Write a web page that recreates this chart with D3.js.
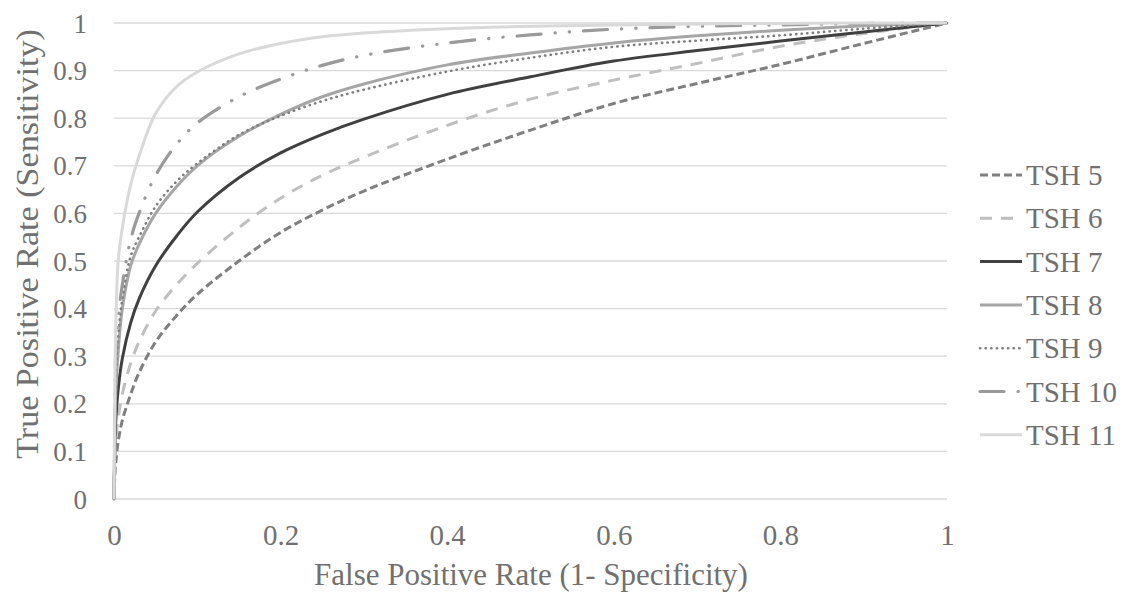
<!DOCTYPE html>
<html><head><meta charset="utf-8">
<script src="https://cdn.jsdelivr.net/npm/d3@7/dist/d3.min.js"></script>
<style>body{margin:0;background:#fff}svg{display:block}</style>
</head><body>
<svg id="chart" width="1128" height="593"></svg>
<script>
const fpr   = [0, 0.001, 0.002, 0.005, 0.01, 0.02, 0.03, 0.05, 0.075, 0.1, 0.15, 0.2, 0.25, 0.3, 0.4, 0.5, 0.6, 0.7, 0.8, 0.9, 1];
const tsh5  = [0, 0.05, 0.075, 0.12, 0.165, 0.22, 0.265, 0.33, 0.385, 0.43, 0.50, 0.56, 0.607, 0.647, 0.714, 0.775, 0.831, 0.873, 0.913, 0.957, 1];
const tsh6  = [0, 0.08, 0.12, 0.17, 0.22, 0.285, 0.33, 0.395, 0.45, 0.495, 0.57, 0.632, 0.68, 0.718, 0.785, 0.84, 0.88, 0.915, 0.951, 0.978, 1];
const tsh7  = [0, 0.11, 0.16, 0.23, 0.295, 0.37, 0.42, 0.49, 0.552, 0.603, 0.675, 0.727, 0.766, 0.798, 0.85, 0.887, 0.92, 0.942, 0.962, 0.981, 1];
const tsh8  = [0, 0.15, 0.22, 0.31, 0.40, 0.49, 0.535, 0.60, 0.656, 0.70, 0.762, 0.808, 0.845, 0.872, 0.912, 0.937, 0.958, 0.973, 0.985, 0.994, 1];
const tsh9  = [0, 0.17, 0.25, 0.34, 0.42, 0.51, 0.55, 0.615, 0.667, 0.705, 0.765, 0.805, 0.836, 0.86, 0.898, 0.927, 0.95, 0.963, 0.974, 0.988, 1];
const tsh10 = [0, 0.20, 0.30, 0.38, 0.45, 0.545, 0.60, 0.68, 0.745, 0.79, 0.845, 0.882, 0.911, 0.932, 0.958, 0.975, 0.987, 0.993, 0.996, 0.999, 1];
const tsh11 = [0, 0.22, 0.35, 0.50, 0.57, 0.66, 0.72, 0.81, 0.866, 0.897, 0.935, 0.957, 0.971, 0.979, 0.988, 0.993, 0.996, 0.998, 0.999, 1, 1];
const seriesNames = ["TSH 5", "TSH 6", "TSH 7", "TSH 8", "TSH 9", "TSH 10", "TSH 11"];
const seriesValues = [tsh5, tsh6, tsh7, tsh8, tsh9, tsh10, tsh11];
const xTicks = [0, 0.2, 0.4, 0.6, 0.8, 1];
const yTicks = [0, 0.1, 0.2, 0.3, 0.4, 0.5, 0.6, 0.7, 0.8, 0.9, 1];
const xTitle = "False Positive Rate (1- Specificity)";
const yTitle = "True Positive Rate (Sensitivity)";

const styles = [
  {color:"#7f7f7f", width:3, dash:"8,4", cap:"butt"},
  {color:"#bfbfbf", width:3, dash:"12,9", cap:"butt"},
  {color:"#404040", width:3, dash:null, cap:"butt"},
  {color:"#a6a6a6", width:3, dash:null, cap:"butt"},
  {color:"#7f7f7f", width:2.6, dash:"0.3,5.3", cap:"round"},
  {color:"#9a9a9a", width:3.2, dash:"24,14,0.3,14,0.3,14", cap:"round"},
  {color:"#d9d9d9", width:3, dash:null, cap:"butt"}
];

const FONT = "Liberation Serif";
const svg = d3.select("#chart");
const textColor = "#707070";
const x = d3.scaleLinear().domain([0,1]).range([114, 947]);
const y = d3.scaleLinear().domain([0,1]).range([499, 23]);

svg.append("g").selectAll("line").data(yTicks).join("line")
  .attr("x1", x(0)).attr("x2", x(1))
  .attr("y1", d => y(d)).attr("y2", d => y(d))
  .attr("stroke", "#d9d9d9").attr("stroke-width", 1.3);

const yAxis = d3.axisLeft(y).tickValues(yTicks).tickSize(0).tickPadding(0).tickFormat(d3.format(""));
const gy = svg.append("g").attr("transform", "translate(87,0)").call(yAxis);
gy.select(".domain").remove();
gy.attr("font-family", FONT).attr("font-size", 27);
gy.selectAll("text").attr("font-family", FONT).attr("font-size", 27).attr("fill", textColor).attr("dy", "0.34em");

const xAxis = d3.axisBottom(x).tickValues(xTicks).tickSize(0).tickPadding(0).tickFormat(d3.format(""));
const gx = svg.append("g").attr("transform", "translate(0,545)").call(xAxis);
gx.select(".domain").remove();
gx.attr("font-family", FONT).attr("font-size", 29);
gx.selectAll("text").attr("font-family", FONT).attr("font-size", 29).attr("fill", textColor).attr("dy", "0");

svg.append("text").attr("x", 531).attr("y", 585).attr("text-anchor", "middle")
  .attr("font-family", FONT).attr("font-size", 31).attr("fill", textColor).text(xTitle);
svg.append("text").attr("transform", "translate(38,244) rotate(-90) scale(1.1,1)").attr("text-anchor", "middle")
  .attr("font-family", FONT).attr("font-size", 31).attr("fill", textColor).text(yTitle);

const line = d3.line().x(d => x(d[0])).y(d => y(d[1])).curve(d3.curveCatmullRom.alpha(0.5));
const gl = svg.append("g");
seriesValues.forEach((vals, i) => {
  const st = styles[i];
  gl.append("path").datum(fpr.map((f, j) => [f, vals[j]]))
    .attr("d", line).attr("fill", "none")
    .attr("stroke", st.color).attr("stroke-width", st.width)
    .attr("stroke-dasharray", st.dash).attr("stroke-linecap", st.cap)
    .attr("stroke-linejoin", "round");
});

const lg = svg.append("g");
seriesNames.forEach((name, i) => {
  const st = styles[i];
  const cy = 175 + i * 43.3;
  lg.append("line").attr("x1", 980).attr("x2", 1022).attr("y1", cy).attr("y2", cy)
    .attr("stroke", st.color).attr("stroke-width", st.width)
    .attr("stroke-dasharray", st.dash).attr("stroke-linecap", st.cap);
  lg.append("text").attr("x", 1026).attr("y", cy + 10)
    .attr("font-family", FONT).attr("font-size", 29).attr("fill", textColor).text(name);
});
</script>
</body></html>
